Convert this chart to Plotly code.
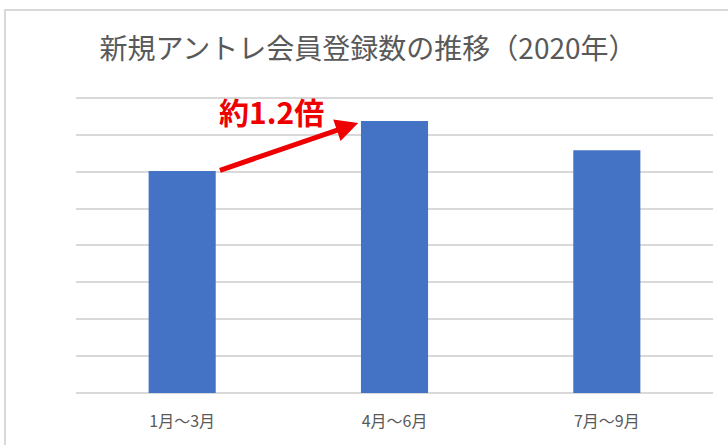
import plotly.graph_objects as go

categories = ["1月～3月", "4月～6月", "7月～9月"]
values = [6.02, 7.37, 6.58]
title_text = "新規アントレ会員登録数の推移（2020年）"
ratio_label = "約1.2倍"

FONT = "Noto Sans CJK JP"

fig = go.Figure(
    go.Bar(
        x=list(range(len(categories))),
        y=values,
        marker=dict(color="#4472C4", line=dict(width=0)),
        width=0.316,
        hoverinfo="skip",
    )
)

fig.update_layout(
    width=728,
    height=445,
    margin=dict(l=76, r=15, t=96, b=52, autoexpand=False),
    paper_bgcolor="white",
    plot_bgcolor="white",
    showlegend=False,
    title=dict(
        text=title_text,
        xref="container",
        x=368 / 728,
        xanchor="center",
        yref="container",
        y=1 - 49.5 / 445,
        yanchor="middle",
        font=dict(family=FONT, size=28, color="#595959"),
    ),
    xaxis=dict(
        tickmode="array",
        tickvals=list(range(len(categories))),
        ticktext=categories,
        range=[-0.5, len(categories) - 0.5],
        showgrid=False,
        zeroline=False,
        showline=False,
        ticks="",
        ticklabelstandoff=17,
        tickfont=dict(family=FONT, size=16, color="#595959"),
    ),
    yaxis=dict(
        range=[0, 8.05],
        dtick=1,
        showgrid=True,
        gridcolor="#d9d9d9",
        gridwidth=1.5,
        zeroline=True,
        zerolinecolor="#d9d9d9",
        zerolinewidth=1.5,
        showticklabels=False,
        ticks="",
    ),
)

# outer chart frame (extends beyond the picture on right/bottom)
fig.add_shape(
    type="rect",
    xref="paper", yref="paper",
    x0=(5 - 76) / 637, x1=1.5,
    y0=-0.6, y1=(393 - 10) / 297,
    line=dict(color="#d9d9d9", width=2),
    fillcolor="rgba(0,0,0,0)",
    layer="below",
)

# arrow from bar 1 top to bar 2 top
fig.add_annotation(
    x=1 - 0.171, y=values[1] - 0.05,
    ax=0 + 0.171, ay=values[0],
    xref="x", yref="y", axref="x", ayref="y",
    showarrow=True,
    arrowhead=2,
    arrowsize=0.9,
    arrowwidth=5,
    arrowcolor="#EE0000",
    text="",
)

fig.add_annotation(
    x=0.42, y=7.65,
    xref="x", yref="y",
    text="<b>" + ratio_label + "</b>",
    showarrow=False,
    font=dict(family=FONT, size=30, color="#EE0000"),
    xanchor="center", yanchor="middle",
)

fig.write_html(
    "out.html",
    config={"displayModeBar": False},
    post_script="document.body.style.margin='0';document.body.style.overflow='hidden';",
)
